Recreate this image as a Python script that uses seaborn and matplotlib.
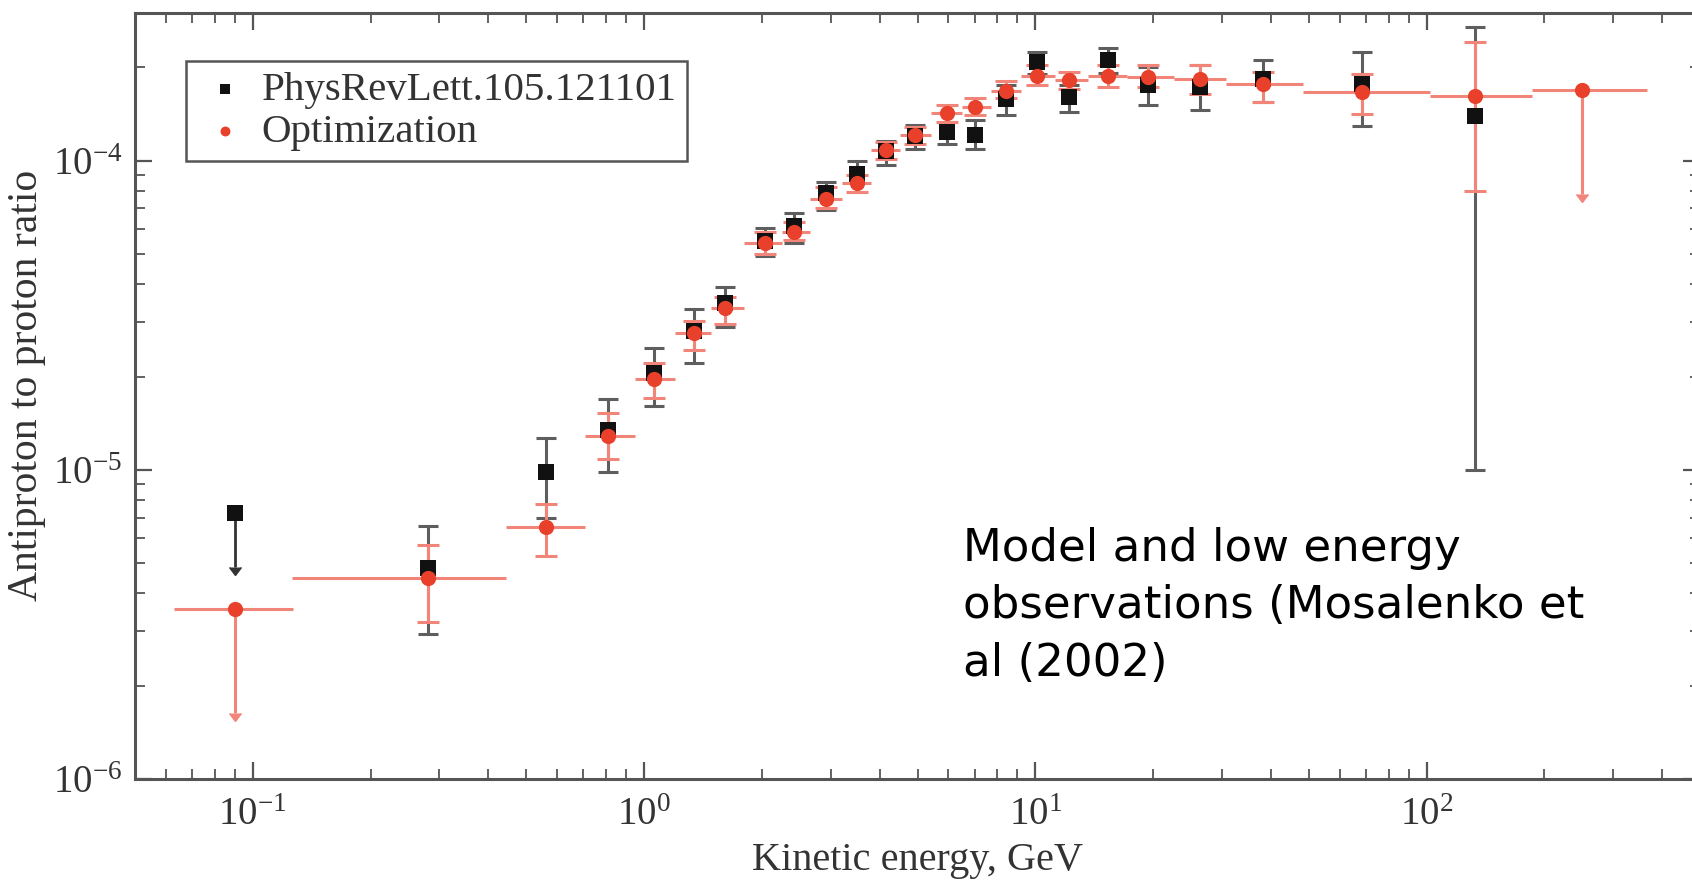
import numpy as np
import pandas as pd
import matplotlib
matplotlib.use("Agg")
import matplotlib.pyplot as plt
import seaborn as sns
from matplotlib.ticker import LogLocator, LogFormatterMathtext, NullFormatter

# ---------------- data ----------------
pamela_label = "PhysRevLett.105.121101"
opt_label = "Optimization"

pamela_energy = [0.09, 0.28, 0.56, 0.81, 1.06, 1.34, 1.61, 2.04, 2.42, 2.92, 3.50, 4.15,
                 4.93, 5.94, 7.01, 8.40, 10.1, 12.2, 15.3, 19.4, 26.4, 38.1, 68.4, 133]
pamela_ratio = [7.23e-6, 4.81e-6, 9.86e-6, 1.34e-5, 2.06e-5, 2.80e-5, 3.46e-5, 5.50e-5,
                6.15e-5, 7.83e-5, 9.08e-5, 1.07e-4, 1.20e-4, 1.24e-4, 1.21e-4, 1.58e-4,
                2.09e-4, 1.60e-4, 2.11e-4, 1.75e-4, 1.73e-4, 1.84e-4, 1.77e-4, 1.39e-4]
pamela_hi = [7.23e-6, 6.59e-6, 1.27e-5, 1.69e-5, 2.48e-5, 3.30e-5, 3.90e-5, 6.05e-5,
             6.78e-5, 8.53e-5, 9.95e-5, 1.16e-4, 1.30e-4, 1.33e-4, 1.35e-4, 1.75e-4,
             2.25e-4, 1.76e-4, 2.31e-4, 2.00e-4, 2.03e-4, 2.11e-4, 2.24e-4, 2.70e-4]
pamela_lo = [4.84e-6, 2.95e-6, 7.00e-6, 9.80e-6, 1.61e-5, 2.21e-5, 2.90e-5, 4.90e-5,
             5.40e-5, 6.92e-5, 7.93e-5, 9.66e-5, 1.09e-4, 1.13e-4, 1.09e-4, 1.40e-4,
             1.90e-4, 1.44e-4, 1.92e-4, 1.51e-4, 1.46e-4, 1.55e-4, 1.29e-4, 1.00e-5]
pamela_upper_limit = [True] + [False] * 23

opt_energy = [0.09, 0.28, 0.56, 0.81, 1.06, 1.34, 1.61, 2.04, 2.42, 2.92, 3.50, 4.15,
              4.93, 5.94, 7.01, 8.40, 10.1, 12.2, 15.3, 19.4, 26.4, 38.1, 68.4, 133, 250]
opt_ratio = [3.55e-6, 4.46e-6, 6.52e-6, 1.29e-5, 1.96e-5, 2.77e-5, 3.33e-5, 5.43e-5,
             5.89e-5, 7.50e-5, 8.43e-5, 1.08e-4, 1.21e-4, 1.42e-4, 1.49e-4, 1.68e-4,
             1.88e-4, 1.82e-4, 1.88e-4, 1.86e-4, 1.84e-4, 1.77e-4, 1.67e-4, 1.62e-4, 1.69e-4]
opt_hi = [3.55e-6, 5.73e-6, 7.74e-6, 1.53e-5, 2.21e-5, 3.02e-5, 3.63e-5, 5.86e-5,
          6.34e-5, 8.22e-5, 8.97e-5, 1.15e-4, 1.28e-4, 1.51e-4, 1.59e-4, 1.81e-4,
          2.03e-4, 1.94e-4, 2.03e-4, 2.03e-4, 2.03e-4, 1.94e-4, 1.90e-4, 2.42e-4, 1.69e-4]
opt_lo = [1.63e-6, 3.22e-6, 5.27e-6, 1.08e-5, 1.71e-5, 2.44e-5, 2.96e-5, 4.98e-5,
          5.53e-5, 7.00e-5, 7.90e-5, 1.01e-4, 1.13e-4, 1.33e-4, 1.40e-4, 1.59e-4,
          1.75e-4, 1.70e-4, 1.73e-4, 1.73e-4, 1.64e-4, 1.55e-4, 1.41e-4, 8.00e-5, 7.80e-5]
opt_bin_lo = [0.063, 0.126, 0.443, 0.705, 0.95, 1.2, 1.48, 1.8, 2.25, 2.65, 3.2, 3.8,
              4.5, 5.4, 6.5, 7.7, 9.2, 11.2, 13.6, 17.2, 22.6, 30.8, 48.2, 102, 186]
opt_bin_hi = [0.127, 0.443, 0.705, 0.95, 1.2, 1.48, 1.8, 2.25, 2.65, 3.2, 3.8, 4.5,
              5.4, 6.5, 7.7, 9.2, 11.2, 13.6, 17.2, 22.6, 30.8, 48.2, 102, 186, 365]
opt_upper_limit = [True] + [False] * 23 + [True]

annotation = "Model and low energy\nobservations (Mosalenko et\nal (2002)"

# ---------------- style ----------------
sns.set_style("ticks")
plt.rcParams["font.family"] = ["Liberation Serif", "DejaVu Serif"]
plt.rcParams["mathtext.fontset"] = "custom"
plt.rcParams["mathtext.rm"] = "Liberation Serif"
plt.rcParams["mathtext.it"] = "Liberation Serif:italic"
plt.rcParams["mathtext.bf"] = "Liberation Serif:bold"

BLACK = "#111111"
BLACK_ERR = "#5e5e5e"
RED = "#e8402a"
RED_ERR = "#f2857a"
AXC = "#555555"
TXT = "#333333"

fig = plt.figure(figsize=(16.92, 8.85), dpi=100)
ax = fig.add_axes([135 / 1692, 106 / 885, (1700 - 135) / 1692, (779 - 13) / 885])

pam = pd.DataFrame({"E": pamela_energy, "r": pamela_ratio, "hi": pamela_hi,
                    "lo": pamela_lo, "lim": pamela_upper_limit})
opt = pd.DataFrame({"E": opt_energy, "r": opt_ratio, "hi": opt_hi, "lo": opt_lo,
                    "blo": opt_bin_lo, "bhi": opt_bin_hi, "lim": opt_upper_limit})

# black error bars
p = pam[~pam["lim"]]
ax.errorbar(p["E"], p["r"], yerr=[p["r"] - p["lo"], p["hi"] - p["r"]], fmt="none",
            color=BLACK_ERR, ecolor=BLACK_ERR, elinewidth=2.2, capsize=7, capthick=2.2,
            zorder=2)
p = pam[pam["lim"]]
ax.errorbar(p["E"], p["r"], yerr=[p["r"] - p["lo"], p["hi"] - p["r"]], uplims=True,
            fmt="none", color="#333333", ecolor="#333333", elinewidth=2.0, capsize=4,
            zorder=2)

# red error bars
ax.errorbar(opt["E"], opt["r"], xerr=[opt["E"] - opt["blo"], opt["bhi"] - opt["E"]],
            fmt="none", color=RED_ERR, ecolor=RED_ERR, elinewidth=2.2, capsize=0, zorder=3)
o = opt[~opt["lim"]]
ax.errorbar(o["E"], o["r"], yerr=[o["r"] - o["lo"], o["hi"] - o["r"]], fmt="none",
            color=RED_ERR, ecolor=RED_ERR, elinewidth=2.2, capsize=8, capthick=2.2,
            zorder=3)
o = opt[opt["lim"]]
ax.errorbar(o["E"], o["r"], yerr=[o["r"] - o["lo"], o["hi"] - o["r"]], uplims=True,
            fmt="none", color=RED_ERR, ecolor=RED_ERR, elinewidth=2.2, capsize=4,
            zorder=3)

# markers
sns.scatterplot(data=pam, x="E", y="r", marker="s", color=BLACK, s=120, linewidth=0,
                ax=ax, zorder=4, label=pamela_label)
sns.scatterplot(data=opt, x="E", y="r", marker="o", color=RED, s=120, linewidth=0,
                ax=ax, zorder=5, label=opt_label)

ax.set_xscale("log")
ax.set_yscale("log")
ax.set_xlim(0.05, 500)
ax.set_ylim(1e-6, 3e-4)

for axis in (ax.xaxis, ax.yaxis):
    axis.set_major_locator(LogLocator(base=10))
    axis.set_minor_locator(LogLocator(base=10, subs=np.arange(2, 10)))
    axis.set_major_formatter(LogFormatterMathtext())
    axis.set_minor_formatter(NullFormatter())

ax.tick_params(which="both", direction="in", top=True, right=True, colors=AXC,
               labelcolor=TXT, labelsize=28)
ax.tick_params(which="major", length=12, width=1.6)
ax.tick_params(which="minor", length=7, width=1.3)
ax.tick_params(axis="x", which="major", pad=13)
ax.tick_params(axis="y", which="major", pad=9)
for sp in ax.spines.values():
    sp.set_color(AXC)
    sp.set_linewidth(2.2)

ax.set_xlabel("Kinetic energy, GeV", fontsize=29, color=TXT, labelpad=6)
ax.set_ylabel("Antiproton to proton ratio", fontsize=30, color=TXT, labelpad=2)
ax.yaxis.set_label_coords(-0.057, 0.514)

leg = ax.legend(loc="upper left", bbox_to_anchor=(0.0326, 0.937), borderaxespad=0,
                frameon=True, fancybox=False, shadow=False, edgecolor=AXC,
                fontsize=29.5, handletextpad=0.2, labelspacing=0.1, borderpad=0.25,
                markerscale=0.65, handlelength=1.4, framealpha=1)
leg.get_frame().set_linewidth(1.8)
for t in leg.get_texts():
    t.set_color(TXT)

fig.text(963 / 1692, 1 - 527 / 885, annotation, ha="left", va="top",
         fontsize=32.5, family=["DejaVu Sans"], color="black", linespacing=1.42)

fig.savefig("out.png", dpi=100)
